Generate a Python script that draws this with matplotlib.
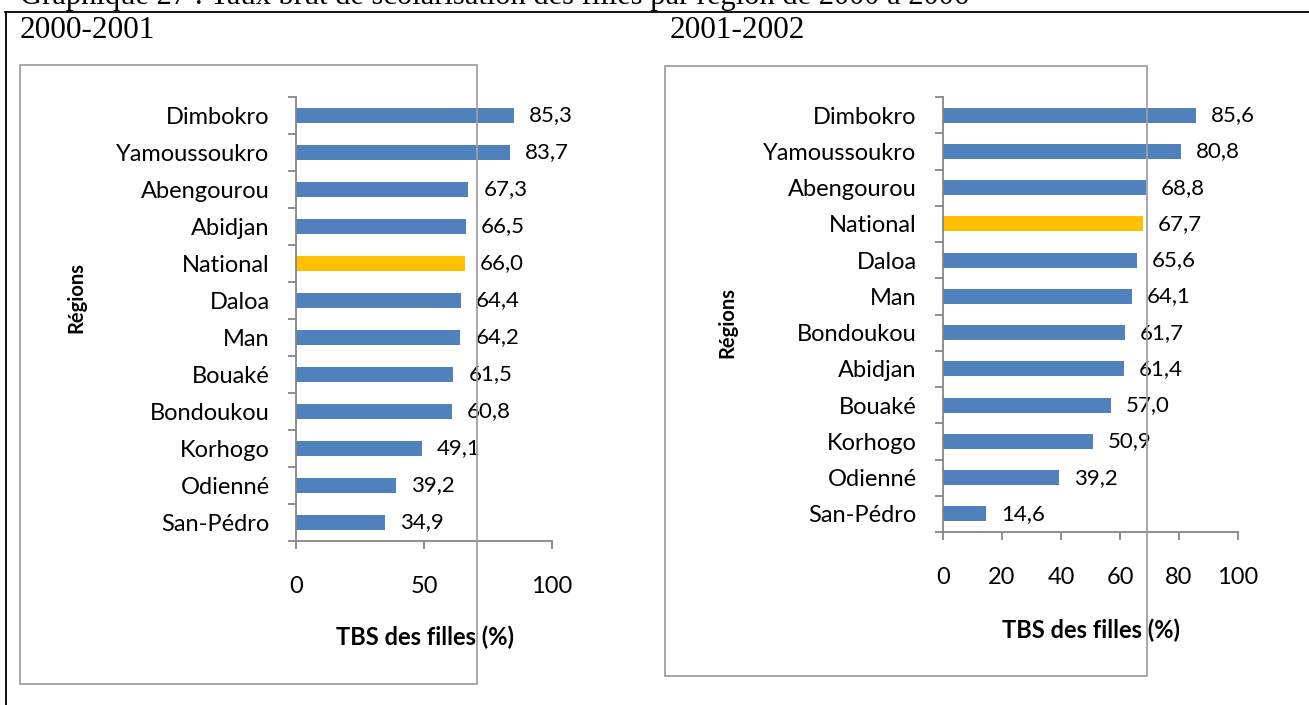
import matplotlib
matplotlib.use("Agg")
import matplotlib.pyplot as plt
from matplotlib.patches import Rectangle
from matplotlib.lines import Line2D

# data
regions_2000 = ["Dimbokro", "Yamoussoukro", "Abengourou", "Abidjan", "National", "Daloa",
                "Man", "Bouaké", "Bondoukou", "Korhogo", "Odienné", "San-Pédro"]
tbs_2000 = [85.3, 83.7, 67.3, 66.5, 66.0, 64.4, 64.2, 61.5, 60.8, 49.1, 39.2, 34.9]

regions_2001 = ["Dimbokro", "Yamoussoukro", "Abengourou", "National", "Daloa", "Man",
                "Bondoukou", "Abidjan", "Bouaké", "Korhogo", "Odienné", "San-Pédro"]
tbs_2001 = [85.6, 80.8, 68.8, 67.7, 65.6, 64.1, 61.7, 61.4, 57.0, 50.9, 39.2, 14.6]

ticks_2000 = [0, 50, 100]
ticks_2001 = [0, 20, 40, 60, 80, 100]

BLUE = "#4F81BD"
GOLD = "#FFC000"
GREY = "#868686"
SANS = ["Lato", "DejaVu Sans"]
SERIF = ["Liberation Serif", "DejaVu Serif"]

W, H = 1309, 705
fig = plt.figure(figsize=(W / 100, H / 100), dpi=100)


def fx(px):
    return px / W


def fy(py):
    return 1 - py / H


# page frame (table cell borders)
fig.add_artist(Line2D([fx(5), 1], [fy(12), fy(12)], color="black", lw=1.3))
fig.add_artist(Line2D([fx(6), fx(6)], [fy(12), 0], color="black", lw=1.3))

# caption sits above the page crop, only its lower part shows
fig.text(fx(20), fy(4), "Graphique 27 : Taux brut de scolarisation des filles par région de 2000 à 2006",
         family=SERIF, fontsize=22, ha="left", va="baseline")
fig.text(fx(20), fy(38), "2000-2001", family=SERIF, fontsize=22.5, ha="left", va="baseline")
fig.text(fx(670), fy(38), "2001-2002", family=SERIF, fontsize=22.5, ha="left", va="baseline")


def chart(box, axpos, names, values, ticks, ylab_xy, xlab_y):
    bx0, by0, bx1, by1 = box
    fig.add_artist(Rectangle((fx(bx0), fy(by1)), fx(bx1 - bx0), (by1 - by0) / H,
                             fill=False, edgecolor="#A0A0A0", lw=1.3))
    ax0, ay0, ax1, ay1 = axpos
    ax = fig.add_axes([fx(ax0), fy(ay1), fx(ax1 - ax0), (ay1 - ay0) / H])
    colors = [GOLD if n == "National" else BLUE for n in names]
    pos = range(len(names))
    ax.barh(pos, values, height=0.42, color=colors)
    ax.set_ylim(len(names) - 0.5, -0.5)
    ax.set_xlim(0, 100)
    for s in ["top", "right"]:
        ax.spines[s].set_visible(False)
    for s in ["left", "bottom"]:
        ax.spines[s].set_color(GREY)
        ax.spines[s].set_linewidth(1.3)
    ax.set_yticks(list(pos))
    ax.set_yticklabels(names, family=SANS, fontsize=17)
    ax.set_yticks([p - 0.5 for p in range(len(names) + 1)], minor=True)
    ax.tick_params(axis="y", which="major", length=0, pad=19)
    ax.tick_params(axis="y", which="minor", length=6, color=GREY, width=1.3)
    ax.set_xticks(ticks)
    ax.set_xticklabels([str(t) for t in ticks], family=SANS, fontsize=17)
    ax.tick_params(axis="x", length=6, color=GREY, width=1.3, pad=19)
    for p, v in zip(pos, values):
        ax.annotate(f"{v:.1f}".replace(".", ","), (v, p), xytext=(15, 0),
                    textcoords="offset pixels", ha="left", va="center",
                    family=SANS, fontsize=16)
    fig.text(fx(ylab_xy[0]), fy(ylab_xy[1]), "Régions", family=SANS, fontsize=14.5,
             fontweight="bold", rotation=90, ha="center", va="center")
    fig.text(fx((ax0 + ax1) / 2 + 1), fy(xlab_y), "TBS des filles (%)", family=SANS,
             fontsize=17, fontweight="bold", ha="center", va="center")
    return ax


chart((20, 65, 477, 684), (296, 97, 552, 541), regions_2000, tbs_2000, ticks_2000, (76, 297), 637)
chart((665, 66, 1147, 676), (943, 97, 1238, 532), regions_2001, tbs_2001, ticks_2001, (727, 323), 630)

fig.savefig("out.png", dpi=100)
